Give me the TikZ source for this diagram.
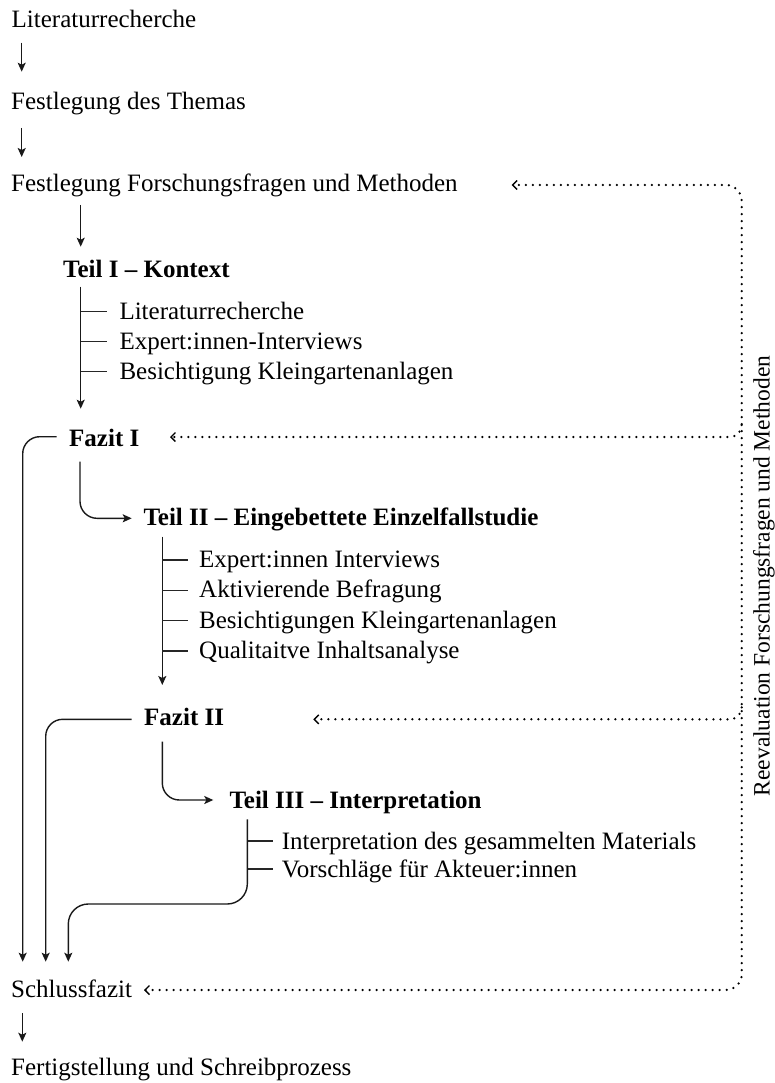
\documentclass[tikz,border=0pt]{standalone}
\usepackage{fontspec}
\setmainfont{Liberation Serif}
\usetikzlibrary{arrows.meta,calc}
\tikzset{
  txt/.style={anchor=base west, inner sep=0pt, font=\fontsize{25}{28}\selectfont},
  hd/.style={txt, font=\fontsize{25}{28}\selectfont\bfseries},
  flow/.style={draw=black!90, line width=1.4pt, -{Stealth[length=9pt,width=8pt,inset=2pt]}},
  twig/.style={draw=black!85, line width=1.2pt},
  fb/.style={draw=black, line width=2.5pt, line cap=round, dash pattern=on 0pt off 7pt},
  barb/.tip={Straight Barb[length=4.5pt,width=9pt,line width=1.4pt]}
}
\begin{document}
\begin{tikzpicture}[x=1pt,y=-1pt]
\useasboundingbox (0,0) rectangle (774,1083);

% main column
\node[txt] (lit) at (11.5,27.3) {Literaturrecherche};
\node[txt] (thema) at (11,110) {Festlegung des Themas};
\node[txt] (fragen) at (11,191.7) {Festlegung Forschungsfragen und Methoden};
\node[hd] (teil1) at (63,277.3) {Teil I – Kontext};
\node[txt] (t1a) at (119.3,319.3) {Literaturrecherche};
\node[txt] (t1b) at (119.3,349.3) {Expert:innen-Interviews};
\node[txt] (t1c) at (119.3,379.3) {Besichtigung Kleingartenanlagen};
\node[hd] (fazit1) at (69,446) {Fazit I};
\node[hd] (teil2) at (143.3,525) {Teil II – Eingebettete Einzelfallstudie};
\node[txt] (t2a) at (199,567.6) {Expert:innen Interviews};
\node[txt] (t2b) at (199,597.9) {Aktivierende Befragung};
\node[txt] (t2c) at (199,628.2) {Besichtigungen Kleingartenanlagen};
\node[txt] (t2d) at (199,658.5) {Qualitaitve Inhaltsanalyse};
\node[hd] (fazit2) at (144,725.7) {Fazit II};
\node[hd] (teil3) at (229.3,808.3) {Teil III – Interpretation};
\node[txt] (t3a) at (281.7,849) {Interpretation des gesammelten Materials};
\node[txt] (t3b) at (281.7,877) {Vorschläge für Akteuer:innen};
\node[txt] (schluss) at (11,997.3) {Schlussfazit};
\node[txt] (fertig) at (11,1075) {Fertigstellung und Schreibprozess};
\node[txt, rotate=90, anchor=base, font=\fontsize{23.5}{28}\selectfont] (reeval) at (769.5,576) {Reevaluation Forschungsfragen und Methoden};

% straight arrows
\draw[flow] ($(lit.base west)+(10.2,15.4)$) -- ($(thema.base west)+(10.7,-38.3)$);
\draw[flow] ($(thema.base west)+(10.7,18)$) -- ($(fragen.base west)+(10.7,-34.7)$);
\draw[flow] ($(fragen.base west)+(69.7,13.3)$) -- ($(teil1.base west)+(17.7,-30.6)$);
\draw[flow] ($(teil1.base west)+(17.7,9.4)$) -- ($(fazit1.base west)+(11.7,-37.3)$);
\draw[flow] ($(teil2.base west)+(19,11.7)$) -- ($(fazit2.base west)+(18.3,-40.7)$);
\draw[flow] ($(schluss.base west)+(11.3,16)$) -- ($(fertig.base west)+(11.3,-33.3)$);

% branches
\foreach \n in {t1a,t1b,t1c}
  \draw[twig] ($(\n.base west)+(-38.6,-7.6)$) -- ($(\n.base west)+(-12.6,-7.6)$);
\foreach \n in {t2a,t2b,t2c,t2d}
  \draw[twig] ($(\n.base west)+(-36.7,-7.6)$) -- ($(\n.base west)+(-10.7,-7.6)$);
\foreach \n in {t3a,t3b}
  \draw[twig] ($(\n.base west)+(-34.4,-8)$) -- ($(\n.base west)+(-8.4,-8)$);

% curved connectors
\draw[flow, rounded corners=17pt] ($(fazit1.base west)+(11,15.7)$) |- ($(teil2.base west)+(-11.6,-6.7)$);
\draw[flow, rounded corners=17pt] ($(fazit2.base west)+(18.3,16)$) |- ($(teil3.base west)+(-16,-8.3)$);
\draw[flow, rounded corners=17pt] ($(fazit1.base west)+(-12.3,-9.3)$) -| ($(schluss.base west)+(11.7,-35.6)$);
\draw[flow, rounded corners=17pt] ($(fazit2.base west)+(-12.3,-6.4)$) -| ($(schluss.base west)+(34.7,-35.6)$);
\draw[flow, rounded corners=20pt] ($(teil3.base west)+(18,11)$) |- ($(schluss.base west)+(57.3,-93.3)$) -- ($(schluss.base west)+(57.3,-35.6)$);

% dotted feedback
\draw[fb, rounded corners=16pt, barb-barb] ($(schluss.base west)+(133,-7.3)$) -| ($(fragen.base west)+(730.7,-6.7)$) -- ($(fragen.base west)+(500.7,-6.7)$);
\draw[fb, rounded corners=12pt, -barb] ($(fazit1.base west)+(672.7,-21)$) |- ($(fazit1.base west)+(101,-9)$);
\draw[fb, rounded corners=12pt, -barb] ($(fazit2.base west)+(597.7,-18.4)$) |- ($(fazit2.base west)+(169.3,-6.4)$);
\end{tikzpicture}
\end{document}
